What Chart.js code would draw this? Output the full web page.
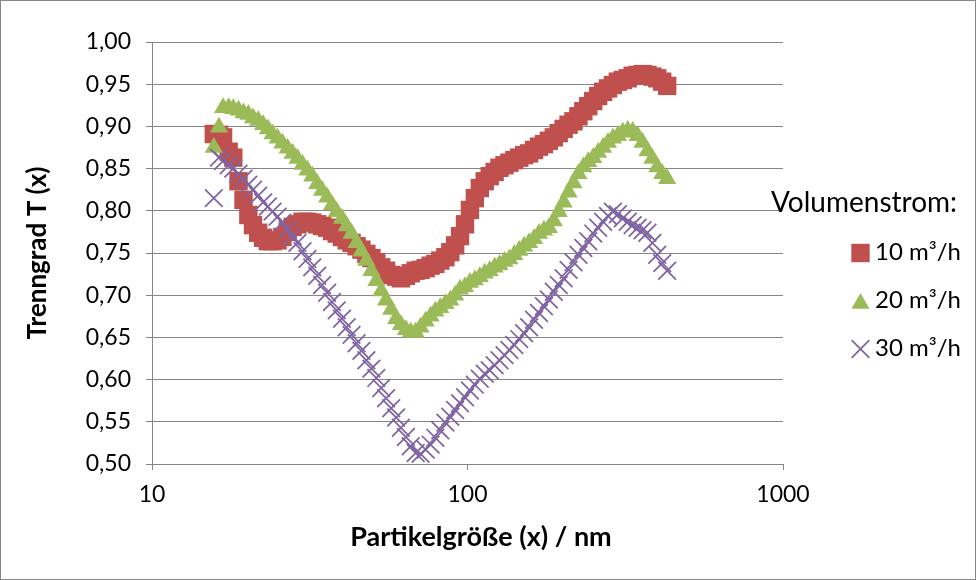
<!DOCTYPE html>
<html lang="de">
<head>
  <meta charset="UTF-8" />
  <title>Trenngrad T (x)</title>
  <script src="https://cdn.jsdelivr.net/npm/chart.js"></script>
  <style>
    html, body { margin: 0; padding: 0; background: #fff; }
    #trennChart { display: block; }
  </style>
</head>
<body>

<canvas id="trennChart" width="976" height="580"></canvas>

<script>
  // Partikelgröße (x) / nm – SMPS-Kanäle
  const sizes = [
    15.7, 16.3, 16.8, 17.5, 18.1, 18.8, 19.5, 20.2, 20.9, 21.7,
    22.5, 23.3, 24.1, 25.0, 25.9, 26.9, 27.9, 28.9, 30.0, 31.1,
    32.2, 33.4, 34.6, 35.9, 37.2, 38.5, 40.0, 41.4, 42.9, 44.5,
    46.1, 47.8, 49.6, 51.4, 53.3, 55.2, 57.3, 59.4, 61.5, 63.8,
    66.1, 68.5, 71.0, 73.7, 76.4, 79.1, 82.0, 85.1, 88.2, 91.4,
    94.7, 98.2, 101.8, 105.5, 109.4, 113.4, 117.6, 121.9, 126.3, 131.0,
    135.8, 140.7, 145.9, 151.2, 156.8, 162.5, 168.5, 174.7, 181.1, 187.7,
    194.6, 201.7, 209.1, 216.7, 224.7, 232.9, 241.4, 250.3, 259.5, 269.0,
    278.8, 289.0, 299.6, 310.6, 322.0, 333.8, 346.0, 358.7, 371.8, 385.4,
    399.5, 414.2, 429.4
  ];

  // Trenngrad bei 10 m³/h
  const t10 = [
    0.891, 0.890, 0.887, 0.870, 0.863, 0.835, 0.813, 0.795, 0.783, 0.774,
    0.768, 0.764, 0.764, 0.765, 0.769, 0.775, 0.781, 0.784, 0.787, 0.787,
    0.786, 0.784, 0.782, 0.780, 0.776, 0.773, 0.769, 0.765, 0.762, 0.758,
    0.754, 0.749, 0.744, 0.739, 0.733, 0.729, 0.724, 0.722, 0.720, 0.723,
    0.726, 0.729, 0.730, 0.732, 0.735, 0.737, 0.741, 0.745, 0.751, 0.759,
    0.770, 0.784, 0.801, 0.815, 0.827, 0.835, 0.841, 0.846, 0.851, 0.854,
    0.857, 0.860, 0.863, 0.866, 0.868, 0.872, 0.876, 0.879, 0.883, 0.887,
    0.892, 0.897, 0.902, 0.906, 0.912, 0.918, 0.924, 0.930, 0.936, 0.941,
    0.945, 0.949, 0.953, 0.955, 0.957, 0.960, 0.961, 0.962, 0.961, 0.959,
    0.957, 0.953, 0.948
  ];

  // Trenngrad bei 20 m³/h
  const t20 = [
    0.875, 0.899, 0.922, 0.922, 0.921, 0.919, 0.916, 0.914, 0.910, 0.907,
    0.902, 0.897, 0.891, 0.886, 0.880, 0.874, 0.868, 0.862, 0.855, 0.848,
    0.841, 0.832, 0.824, 0.816, 0.807, 0.799, 0.791, 0.782, 0.773, 0.762,
    0.752, 0.741, 0.729, 0.717, 0.705, 0.694, 0.683, 0.672, 0.665, 0.659,
    0.656, 0.656, 0.662, 0.669, 0.675, 0.681, 0.685, 0.690, 0.694, 0.700,
    0.707, 0.710, 0.715, 0.718, 0.722, 0.726, 0.729, 0.733, 0.736, 0.740,
    0.743, 0.748, 0.753, 0.758, 0.762, 0.767, 0.773, 0.777, 0.780, 0.788,
    0.799, 0.810, 0.822, 0.833, 0.844, 0.852, 0.858, 0.863, 0.869, 0.875,
    0.881, 0.886, 0.889, 0.893, 0.895, 0.894, 0.889, 0.881, 0.871, 0.862,
    0.852, 0.844, 0.838
  ];

  // Trenngrad bei 30 m³/h
  const t30 = [
    0.815, 0.863, 0.859, 0.854, 0.850, 0.844, 0.838, 0.831, 0.825, 0.818,
    0.810, 0.805, 0.799, 0.793, 0.786, 0.778, 0.770, 0.762, 0.752, 0.743,
    0.733, 0.723, 0.712, 0.703, 0.692, 0.682, 0.672, 0.662, 0.653, 0.643,
    0.634, 0.623, 0.613, 0.602, 0.590, 0.578, 0.566, 0.555, 0.543, 0.532,
    0.521, 0.513, 0.512, 0.517, 0.523, 0.531, 0.540, 0.549, 0.556, 0.564,
    0.572, 0.579, 0.587, 0.594, 0.601, 0.607, 0.611, 0.617, 0.623, 0.629,
    0.635, 0.641, 0.648, 0.655, 0.662, 0.671, 0.679, 0.687, 0.695, 0.704,
    0.712, 0.720, 0.730, 0.739, 0.748, 0.756, 0.764, 0.773, 0.780, 0.787,
    0.794, 0.799, 0.796, 0.791, 0.787, 0.783, 0.780, 0.777, 0.774, 0.762,
    0.748, 0.738, 0.729
  ];

  const seriesLabels = ['10 m³/h', '20 m³/h', '30 m³/h'];
  const legendTitle = 'Volumenstrom:';
  const xTitle = 'Partikelgröße (x) / nm';
  const yTitle = 'Trenngrad T (x)';
  const xTicks = [10, 100, 1000];
  const yTicks = [0.50, 0.55, 0.60, 0.65, 0.70, 0.75, 0.80, 0.85, 0.90, 0.95, 1.00];

  const toPoints = (vals) => vals.map((v, i) => ({ x: sizes[i], y: v }));

  Chart.defaults.font.family = 'Lato, "DejaVu Sans", sans-serif';
  Chart.defaults.color = '#000';

  const gridGray = '#868686';

  // Rahmen, x-Achsentitel (wie im Original leicht nach rechts versetzt) und Legende
  const frameLegend = {
    id: 'frameLegend',
    afterDraw(chart) {
      const ctx = chart.ctx;
      ctx.save();
      ctx.strokeStyle = gridGray;
      ctx.lineWidth = 1;
      ctx.strokeRect(0.5, 0.5, chart.width - 1, chart.height - 1);

      ctx.fillStyle = '#000';
      ctx.textAlign = 'center';
      ctx.textBaseline = 'middle';
      ctx.font = 'bold 27px Lato';
      ctx.fillText(xTitle, 481, 537);

      ctx.textAlign = 'left';
      ctx.textBaseline = 'alphabetic';
      ctx.font = '28px Lato';
      ctx.fillText(legendTitle, 771, 212);

      ctx.font = '24px Lato';
      chart.data.datasets.forEach((ds, i) => {
        const cy = 253 + i * 48;
        const my = ds.pointStyle === 'triangle' ? cy + 2.6 : cy;
        ctx.fillStyle = ds.backgroundColor;
        ctx.strokeStyle = ds.borderColor;
        ctx.lineWidth = ds.borderWidth;
        Chart.helpers.drawPoint(ctx, {
          pointStyle: ds.pointStyle,
          radius: ds.pointRadius,
          borderWidth: ds.borderWidth,
          rotation: 0
        }, 860.5, my);
        ctx.fillStyle = '#000';
        ctx.fillText(ds.label, 875, cy + 7);
      });
      ctx.restore();
    }
  };

  new Chart(document.getElementById('trennChart'), {
    type: 'scatter',
    data: {
      datasets: [
        {
          label: seriesLabels[0],
          data: toPoints(t10),
          pointStyle: 'rect',
          pointRadius: 13,
          backgroundColor: '#C0504D',
          borderColor: '#C0504D',
          borderWidth: 0,
          order: 3
        },
        {
          label: seriesLabels[1],
          data: toPoints(t20),
          pointStyle: 'triangle',
          pointRadius: 10.5,
          backgroundColor: '#9BBB59',
          borderColor: '#9BBB59',
          borderWidth: 0,
          order: 2
        },
        {
          label: seriesLabels[2],
          data: toPoints(t30),
          pointStyle: 'crossRot',
          pointRadius: 12.5,
          backgroundColor: '#8064A2',
          borderColor: '#8064A2',
          borderWidth: 1.75,
          order: 1
        }
      ]
    },
    options: {
      responsive: false,
      animation: false,
      events: [],
      layout: { padding: { top: 42, right: 193, bottom: 0, left: 0 } },
      plugins: {
        legend: { display: false },
        tooltip: { enabled: false }
      },
      scales: {
        x: {
          type: 'logarithmic',
          min: 10,
          max: 1000,
          afterBuildTicks: (scale) => { scale.ticks = xTicks.map(v => ({ value: v, major: true })); },
          afterFit: (scale) => { scale.height = 116; },
          ticks: {
            font: { size: 23 },
            padding: 11,
            maxRotation: 0,
            autoSkip: false,
            callback: (v) => String(v)
          },
          grid: { drawOnChartArea: false, drawTicks: true, tickLength: 6, color: gridGray },
          border: { display: true, color: gridGray, width: 1 }
        },
        y: {
          min: 0.5,
          max: 1.0,
          afterBuildTicks: (scale) => { scale.ticks = yTicks.map(v => ({ value: v })); },
          afterFit: (scale) => { scale.width = 152; },
          ticks: {
            font: { size: 23 },
            padding: 15,
            callback: (v) => v.toFixed(2).replace('.', ',')
          },
          grid: { color: gridGray, lineWidth: 1, tickLength: 6 },
          border: { display: true, color: gridGray, width: 1 },
          title: {
            display: true,
            text: yTitle,
            font: { size: 26, weight: 'bold' },
            padding: { top: 22, bottom: 0 }
          }
        }
      }
    },
    plugins: [frameLegend]
  });
</script>

</body>
</html>
